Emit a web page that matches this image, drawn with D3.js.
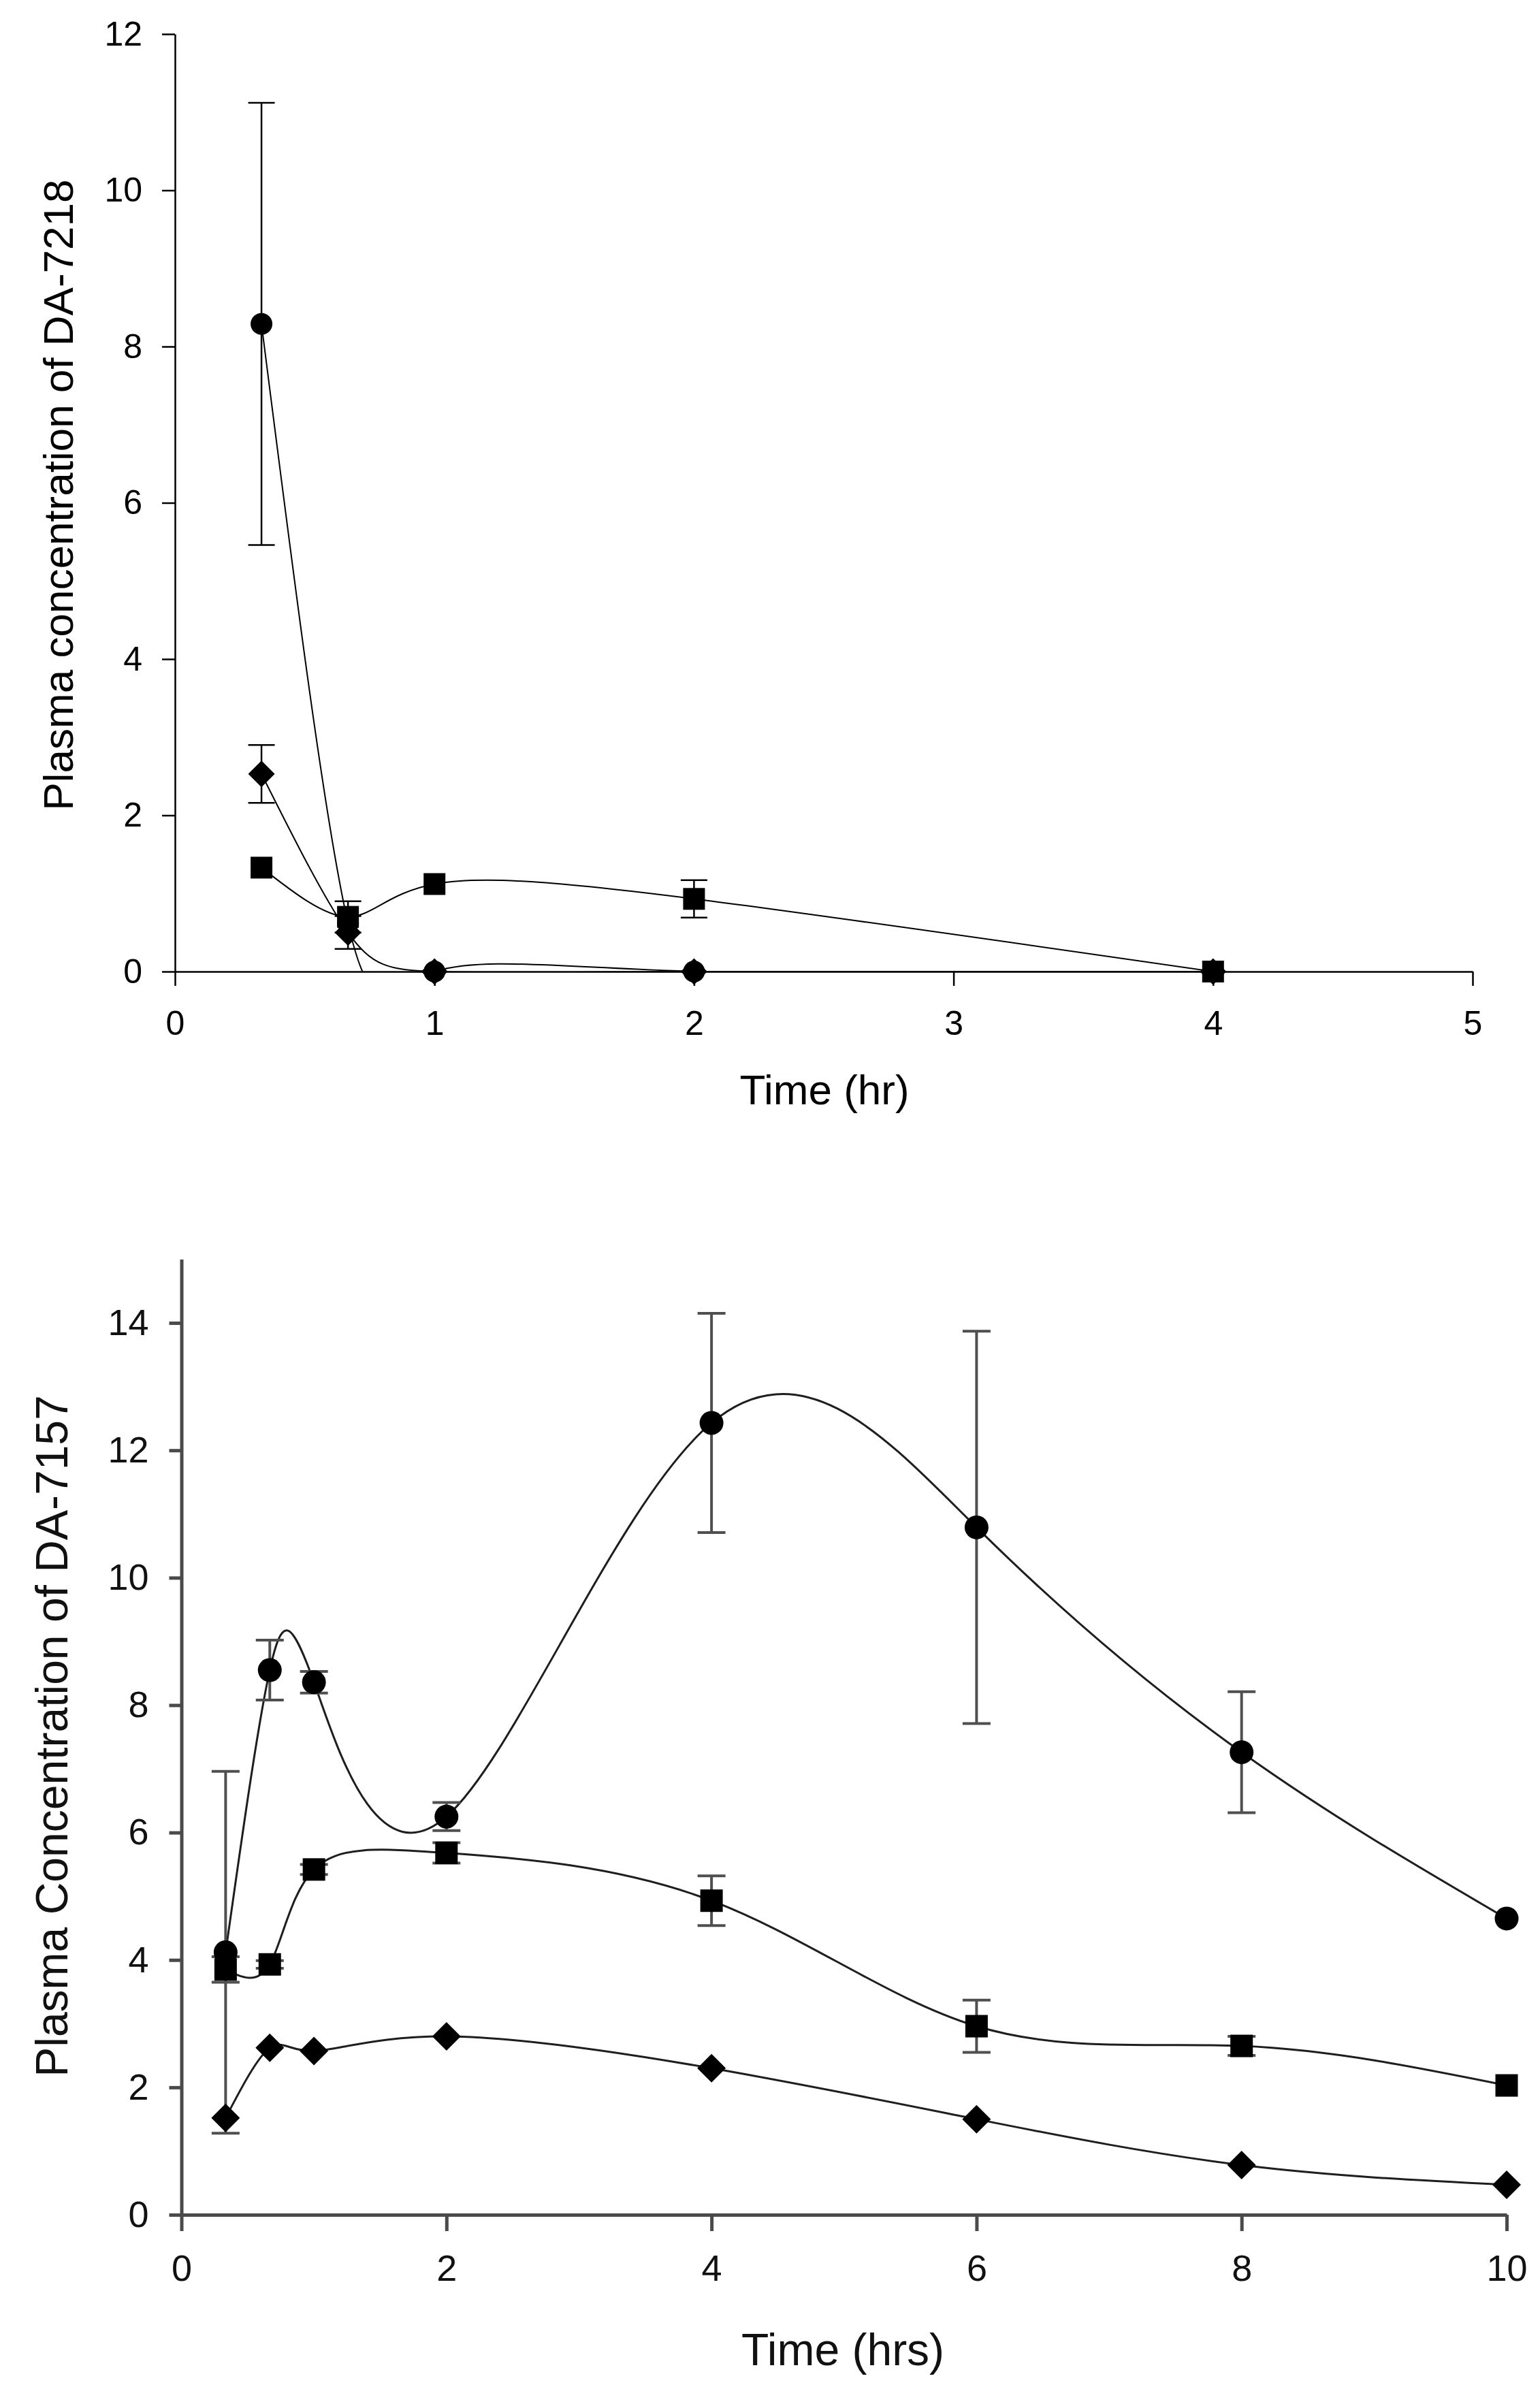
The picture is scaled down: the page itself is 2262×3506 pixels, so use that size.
<!DOCTYPE html>
<html>
<head>
<meta charset="utf-8">
<script src="https://cdn.jsdelivr.net/npm/d3@7"></script>
<style>
  html, body { margin: 0; padding: 0; background: #ffffff; }
  svg { display: block; }
  text { font-family: "Liberation Sans", Arial, Helvetica, sans-serif; }
</style>
</head>
<body>
<svg id="chart" width="2262" height="3506"></svg>
<script>
// ---------------- DATA: top panel (DA-7218) ----------------
const topTicksX = [0, 1, 2, 3, 4, 5];
const topTicksY = [0, 2, 4, 6, 8, 10, 12];
const topTime = [1/3, 2/3, 1, 2, 4];
const topCircle = [8.29, 0.62, 0, 0, 0];
const topCircleSD = [2.83, 0, 0, 0, 0];
const topSquare = [1.33, 0.70, 1.12, 0.93, 0];
const topSquareSD = [0, 0.20, 0, 0.24, 0];
const topDiamond = [2.53, 0.50, 0, 0, 0];
const topDiamondSD = [0.37, 0.21, 0, 0, 0];

// ---------------- DATA: bottom panel (DA-7157) ----------------
const botTicksX = [0, 2, 4, 6, 8, 10];
const botTicksY = [0, 2, 4, 6, 8, 10, 12, 14];
const botTime = [1/3, 2/3, 1, 2, 4, 6, 8, 10];
const botCircle = [4.12, 8.55, 8.36, 6.25, 12.43, 10.79, 7.26, 4.65];
const botCircleSD = [2.84, 0.47, 0.17, 0.22, 1.72, 3.08, 0.95, 0];
const botSquare = [3.85, 3.93, 5.42, 5.68, 4.93, 2.96, 2.65, 2.03];
const botSquareSD = [0.20, 0.06, 0.08, 0.16, 0.39, 0.41, 0.15, 0];
const botDiamond = [1.52, 2.62, 2.57, 2.80, 2.30, 1.50, 0.78, 0.47];
const botDiamondSD = [0, 0, 0, 0, 0, 0, 0, 0];

const svg = d3.select("#chart");
svg.append("rect").attr("width", 2262).attr("height", 3506).attr("fill", "#fff");

function drawPanel(cfg) {
  const g = svg.append("g");
  const x = d3.scaleLinear().domain(cfg.xDomain).range(cfg.xRange);
  const y = d3.scaleLinear().domain(cfg.yDomain).range(cfg.yRange);

  const clipId = cfg.id + "-clip";
  svg.append("clipPath").attr("id", clipId).append("rect")
    .attr("x", x(cfg.xDomain[0])).attr("y", y(cfg.yDomain[1]))
    .attr("width", x(cfg.xDomain[1]) - x(cfg.xDomain[0]))
    .attr("height", y(cfg.yDomain[0]) - y(cfg.yDomain[1]));

  // axes
  const xAxis = d3.axisBottom(x).tickValues(cfg.xTicks).tickFormat(d3.format("d"))
    .tickSizeInner(cfg.xTickLen).tickSizeOuter(0).tickPadding(cfg.xPad);
  const yAxis = d3.axisLeft(y).tickValues(cfg.yTicks).tickFormat(d3.format("d"))
    .tickSizeInner(cfg.yTickLen).tickSizeOuter(0).tickPadding(cfg.yPad);

  const gx = g.append("g").attr("transform", `translate(0,${y(0)})`).call(xAxis);
  const gy = g.append("g").attr("transform", `translate(${x(0)},0)`).call(yAxis);
  [gx, gy].forEach(ax => {
    ax.selectAll("path.domain").attr("stroke", cfg.axisColor).attr("stroke-width", cfg.axisWidth);
    ax.selectAll(".tick line").attr("stroke", cfg.axisColor).attr("stroke-width", cfg.axisWidth);
    ax.selectAll(".tick text").attr("fill", cfg.textColor)
      .style("font-family", '"Liberation Sans", Arial, sans-serif');
  });
  gx.selectAll(".tick text").style("font-size", cfg.xTickFont + "px");
  gy.selectAll(".tick text").style("font-size", cfg.yTickFont + "px");

  // axis titles
  g.append("text")
    .attr("x", cfg.xTitlePos[0]).attr("y", cfg.xTitlePos[1])
    .attr("text-anchor", "middle").attr("fill", cfg.textColor)
    .style("font-size", cfg.titleFont + "px").text(cfg.xTitle);
  g.append("text")
    .attr("transform", `translate(${cfg.yTitlePos[0]},${cfg.yTitlePos[1]}) rotate(-90)`)
    .attr("text-anchor", "middle").attr("fill", cfg.textColor)
    .style("font-size", cfg.yTitleFont + "px").text(cfg.yTitle);

  // spline curves (clipped to plot area)
  const line = d3.line().x(d => x(d[0])).y(d => y(d[1])).curve(d3.curveNatural);
  const curves = g.append("g").attr("clip-path", `url(#${clipId})`);
  cfg.series.forEach(s => {
    const pts = s.t.map((t, i) => [t, s.v[i]]);
    curves.append("path").attr("d", line(pts))
      .attr("fill", "none").attr("stroke", cfg.lineColor)
      .attr("stroke-width", cfg.lineWidth).attr("stroke-linejoin", "round");
  });

  // error bars
  const eb = g.append("g").attr("stroke", cfg.errColor).attr("stroke-width", cfg.errWidth).attr("fill", "none");
  cfg.series.forEach(s => {
    s.t.forEach((t, i) => {
      const sd = s.sd[i];
      if (!sd) return;
      const cx = x(t), yt = y(s.v[i] + sd), yb = y(s.v[i] - sd), hw = cfg.capW / 2;
      eb.append("line").attr("x1", cx).attr("x2", cx).attr("y1", yt).attr("y2", yb);
      eb.append("line").attr("x1", cx - hw).attr("x2", cx + hw).attr("y1", yt).attr("y2", yt);
      eb.append("line").attr("x1", cx - hw).attr("x2", cx + hw).attr("y1", yb).attr("y2", yb);
    });
  });

  // markers
  const mk = g.append("g").attr("fill", "#000");
  cfg.series.forEach(s => {
    s.t.forEach((t, i) => {
      const cx = x(t), cy = y(s.v[i]);
      if (s.shape === "circle") {
        mk.append("circle").attr("cx", cx).attr("cy", cy).attr("r", cfg.circleR);
      } else if (s.shape === "square") {
        const a = cfg.squareS;
        mk.append("rect").attr("x", cx - a / 2).attr("y", cy - a / 2).attr("width", a).attr("height", a);
      } else {
        const r = cfg.diamondR;
        mk.append("path").attr("d", `M${cx},${cy - r}L${cx + r},${cy}L${cx},${cy + r}L${cx - r},${cy}Z`);
      }
    });
  });
}

drawPanel({
  id: "top",
  xDomain: [0, 5], xRange: [257, 2163],
  yDomain: [0, 12], yRange: [1427, 50],
  xTicks: topTicksX, yTicks: topTicksY,
  xTickLen: 21, yTickLen: 19, xPad: 36, yPad: 29,
  xTickFont: 50, yTickFont: 50,
  axisColor: "#000", axisWidth: 2.5, textColor: "#000",
  lineColor: "#000", lineWidth: 2,
  errColor: "#000", errWidth: 2.5, capW: 39,
  circleR: 16, squareS: 32, diamondR: 19.5,
  titleFont: 62, yTitleFont: 62,
  xTitle: "Time (hr)", xTitlePos: [1211, 1622],
  yTitle: "Plasma concentration of DA-7218", yTitlePos: [107, 727],
  series: [
    { shape: "circle", t: topTime, v: topCircle, sd: topCircleSD },
    { shape: "square", t: topTime, v: topSquare, sd: topSquareSD },
    { shape: "diamond", t: topTime, v: topDiamond, sd: topDiamondSD }
  ]
});

drawPanel({
  id: "bot",
  xDomain: [0, 10], xRange: [266.5, 2213],
  yDomain: [0, 15], yRange: [3253, 1849.5],
  xTicks: botTicksX, yTicks: botTicksY,
  xTickLen: 24, yTickLen: 18, xPad: 35, yPad: 30,
  xTickFont: 54, yTickFont: 54,
  axisColor: "#4a4a4a", axisWidth: 5, textColor: "#111",
  lineColor: "#1e1e1e", lineWidth: 3,
  errColor: "#4f4f4f", errWidth: 4, capW: 41,
  circleR: 17.5, squareS: 33, diamondR: 21,
  titleFont: 66, yTitleFont: 66,
  xTitle: "Time (hrs)", xTitlePos: [1238, 3474],
  yTitle: "Plasma Concentration of DA-7157", yTitlePos: [99, 2550],
  series: [
    { shape: "circle", t: botTime, v: botCircle, sd: botCircleSD },
    { shape: "square", t: botTime, v: botSquare, sd: botSquareSD },
    { shape: "diamond", t: botTime, v: botDiamond, sd: botDiamondSD }
  ]
});
</script>
</body>
</html>
